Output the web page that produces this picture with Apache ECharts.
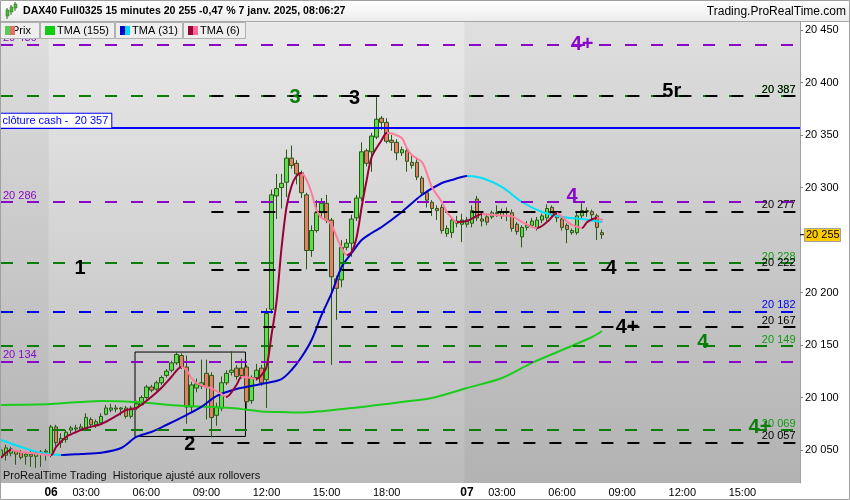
<!DOCTYPE html>
<html><head><meta charset="utf-8">
<script src="https://cdn.jsdelivr.net/npm/echarts@6/dist/echarts.min.js"></script>
<style>html,body{margin:0;padding:0;background:#fff}#c{width:850px;height:500px}</style>
</head><body><div id="c"></div>
<script>
// ---------------- DATA ----------------
const headerText = 'DAX40 Full0325 15 minutes 20 255 -0,47 % 7 janv. 2025, 08:06:27';
const siteText = 'Trading.ProRealTime.com';
const footText = 'ProRealTime Trading  Historique ajusté aux rollovers';
const legendNames = ['Prix', 'TMA (155)', 'TMA (31)', 'TMA (6)'];

const slotCount = 160; // 15-minute slots across the x axis
const xTickSlots = [10, 17, 29, 41, 53, 65, 77, 93, 100, 112, 124, 136, 148];
const xTickTexts = ['06', '03:00', '06:00', '09:00', '12:00', '15:00', '18:00', '07', '03:00', '06:00', '09:00', '12:00', '15:00'];
const dayTickTexts = ['06', '07'];

const yTickValues = [20050, 20100, 20150, 20200, 20300, 20350, 20400, 20450];
const lastPrice = 20255;

// OHLC, one per 15-minute slot starting at slot 0
const opens = [20043,20045,20047,20049,20048,20044,20046,20044,20046,20048,
 20045,20072,20057,20060,20069,20071,20070,20070,20079,20074,
 20076,20084,20088,20090,20089,20090,20082,20090,20093,20100,
 20110,20108,20114,20121,20126,20133,20140,20129,20091,20109,
 20111,20123,20121,20083,20090,20114,20124,20128,20128,20129,
 20097,20119,20128,20117,20184,20292,20300,20305,20328,20323,
 20314,20293,20240,20259,20276,20285,20269,20213,20212,20243,
 20247,20271,20290,20335,20334,20348,20366,20362,20345,20343,
 20333,20335,20324,20324,20309,20295,20286,20280,20281,20256,
 20257,20268,20265,20265,20266,20289,20270,20272,20272,20275,
 20273,20277,20276,20265,20253,20262,20264,20262,20269,20271,
 20281,20273,20270,20264,20257,20257,20273,20278,20277,20273,20257];
const highs = [20053,20055,20053,20050,20050,20048,20049,20049,20050,20051,
 20074,20074,20066,20069,20073,20074,20075,20085,20081,20079,
 20085,20093,20094,20093,20091,20092,20092,20097,20102,20112,
 20112,20116,20121,20127,20135,20143,20142,20140,20115,20118,
 20136,20136,20124,20095,20120,20126,20144,20131,20137,20131,
 20121,20132,20131,20185,20298,20313,20313,20336,20340,20326,
 20316,20295,20264,20288,20290,20293,20271,20216,20250,20251,
 20274,20293,20343,20337,20352,20386,20368,20366,20350,20346,
 20339,20337,20330,20327,20311,20297,20288,20283,20284,20264,
 20272,20273,20275,20272,20283,20292,20274,20275,20278,20283,
 20280,20281,20279,20267,20264,20268,20271,20272,20275,20284,
 20283,20275,20272,20266,20261,20276,20285,20281,20279,20275,20260];
const lows = [20038,20040,20044,20036,20041,20036,20034,20033,20034,20040,
 20043,20054,20052,20057,20066,20067,20068,20068,20071,20071,
 20074,20083,20086,20086,20083,20080,20080,20088,20092,20098,
 20105,20106,20112,20119,20124,20131,20127,20075,20086,20105,
 20108,20079,20062,20073,20087,20112,20121,20117,20118,20088,
 20094,20116,20111,20090,20180,20270,20280,20291,20318,20303,
 20290,20222,20234,20257,20270,20266,20131,20174,20205,20240,
 20234,20268,20287,20320,20315,20346,20355,20342,20335,20326,
 20330,20315,20318,20307,20293,20281,20273,20269,20256,20253,
 20252,20262,20248,20262,20262,20268,20263,20264,20270,20272,
 20270,20268,20258,20255,20243,20259,20262,20259,20266,20268,
 20271,20267,20259,20247,20255,20255,20270,20272,20270,20250,20251];
const closes = [20050,20052,20051,20046,20043,20046,20044,20047,20048,20049,
 20072,20057,20061,20067,20071,20070,20072,20081,20074,20077,
 20082,20090,20090,20089,20090,20082,20090,20094,20100,20110,
 20107,20114,20119,20125,20133,20141,20129,20091,20112,20113,
 20114,20110,20081,20091,20114,20123,20126,20120,20121,20096,
 20119,20126,20114,20180,20293,20299,20304,20328,20321,20313,
 20295,20240,20259,20276,20285,20269,20215,20204,20243,20247,
 20270,20290,20334,20323,20349,20365,20362,20344,20343,20333,
 20336,20325,20321,20310,20295,20288,20280,20278,20259,20261,
 20269,20266,20269,20269,20278,20271,20268,20267,20276,20276,
 20277,20276,20261,20258,20262,20264,20268,20269,20273,20280,
 20274,20271,20262,20260,20259,20273,20278,20277,20274,20262,20255];

// moving averages (slot, value)
const tma155Slots = [0,10,20,27,36,46,52,56,60,70,80,86,93,100,106,112,118,120];
const tma155Vals  = [20092.9,20093.8,20096.7,20095.7,20092.2,20090,20086.7,20086.2,20085.7,20090,20095.7,20099.5,20109,20118.6,20132.9,20145.2,20157.6,20163.3];

const tma31Slots = [0,4,8,12,16,20,24,27,30,33,37,40,43,47,50,53,56,58,60,62,64,66,68,70,72,74,76,80,84,88,90,93,96,100,104,108,112,116,120];
const tma31Vals  = [20059.5,20052.9,20047.1,20045.2,20046.2,20047.4,20051.9,20062.4,20067.1,20073.8,20083.3,20091,20101.4,20108.1,20111,20113.8,20117.6,20126.2,20138.6,20154.8,20178.6,20199.5,20224.3,20237.6,20250,20256.7,20262.4,20276.7,20292.9,20304.3,20307.1,20311,20309,20300.5,20286.2,20276.7,20272,20270,20267.1];

const tma6Slots = [0,2,4,6,8,10,11,13,15,17,20,23,25,27,30,32,34,36,37,38,39,41,42,44,45,47,48,50,51,52,53,54,55,56,57,58,59,60,61,62,63,64,65,66,67,68,69,70,71,72,73,74,76,77,78,80,81,82,84,85,86,88,89,90,91,93,95,96,99,102,104,106,107,109,111,112,114,116,117,119,120];
const tma6Vals  = [20042.4,20050,20048.1,20047.1,20046,20045.2,20052.9,20062.4,20067.1,20070.9,20074.8,20082.4,20088.1,20090,20100.5,20109,20119.5,20129,20126.2,20118.6,20113.8,20110,20109,20103.3,20100.5,20111.9,20119.5,20118.6,20117.6,20121.4,20129,20159.5,20191,20242.4,20281.4,20301.4,20311,20313.8,20307.1,20294.8,20278.6,20271,20269,20264.3,20252.9,20242.4,20235.7,20238.6,20252.9,20281.4,20307.1,20329,20345.2,20351.9,20351.5,20347.1,20337.6,20331,20324.3,20313.8,20300.5,20286.2,20276.7,20271,20267.1,20268.1,20272.9,20274.8,20273.5,20272.5,20267.1,20262.4,20261.4,20267.1,20275.7,20271.9,20264.3,20261.4,20267.1,20271,20269];

// horizontal levels
const purpleLevels = [20436, 20286, 20134];
const greenLevels  = [20387, 20228, 20149, 20069];
const blueLevels   = [20182];
const blackLevels  = [20387, 20277, 20222, 20167, 20057];
const blackLevelStartSlot = 42;
const cashClose = 20357;
const cashLabel = 'clôture cash - ';

// wave-count annotations
const annoTexts = ['4+', '3', '3', '5r', '4', '1', '4', '4+', '4', '4+', '2'];
const annoSlots = [116, 58.7, 70.6, 133.9, 114, 15.8, 121.8, 125, 140.1, 151.5, 37.7];
const annoVals  = [20436, 20386, 20385, 20391, 20291, 20223, 20223, 20167, 20152, 20071, 20055];
const annoKinds = ['p', 'g', 'k', 'k', 'p', 'k', 'k', 'k', 'g', 'g', 'k'];

// rectangle zone (slot range, value range)
const boxSlots = [26.75, 48.8];
const boxVals = [20143.3, 20062.9];

// sessions
const prevDayEnd = 9.5, day2Start = 92.5;

// ---------------- STYLE ----------------
const FONT = '"Liberation Sans", Arial, sans-serif';
const C = { p: '#8a08c8', g: '#0b7d0b', gt: '#119a11', b: '#0000ee', k: '#000000' };
const fmt = v => { const s = String(Math.round(v)); return s.slice(0, s.length - 3) + ' ' + s.slice(-3); };
const YMAX = 20457.62, YMIN = 20018.57;

const categories = Array.from({length: slotCount}, (_, i) => String(i));
const tickMap = {};
xTickSlots.forEach((s, i) => tickMap[s] = xTickTexts[i]);

const candleData = opens.map((o, i) => [o, closes[i], lows[i], highs[i]]);
const pairs = (xs, vs) => xs.map((x, i) => [x, vs[i]]);

function dirPieces(xs, vs, up, down) {
  const pieces = [];
  for (let i = 0; i < xs.length - 1; i++) {
    const p = { gte: xs[i], color: vs[i + 1] > vs[i] ? up : down };
    if (i === xs.length - 2) p.lte = xs[i + 1]; else p.lt = xs[i + 1];
    pieces.push(p);
  }
  return pieces;
}

const DASH = [12, 14];
const levelLines = [];
function addLevels(list, color, labelColor, start, side) {
  list.forEach(v => {
    levelLines.push([
      { xAxis: start, yAxis: v,
        lineStyle: { color: color, width: 2, type: DASH },
        label: { show: true, formatter: fmt(v), color: labelColor,
                 position: side === 'start' ? 'insideStartTop' : 'insideEndTop',
                 distance: [2, 1], fontSize: 11, fontFamily: FONT } },
      { xAxis: slotCount - 1, yAxis: v }
    ]);
  });
}
addLevels(purpleLevels, C.p, C.p, 0, 'start');
addLevels(greenLevels, C.g, C.gt, 0, 'end');
addLevels(blueLevels, C.b, C.b, 0, 'end');
addLevels(blackLevels, C.k, C.k, blackLevelStartSlot, 'end');
levelLines.push({
  yAxis: cashClose,
  lineStyle: { color: '#0000ff', width: 2, type: 'solid' },
  label: { show: true, formatter: cashLabel + ' ' + fmt(cashClose), position: 'insideStartTop',
           distance: [1, 0], color: '#0000ff', fontSize: 11, fontFamily: FONT,
           backgroundColor: '#ffffff', borderColor: '#0000ff', borderWidth: 1, padding: [2, 3, 1, 3] }
});

const chart = echarts.init(document.getElementById('c'), null, { renderer: 'canvas' });

const legendX = [0, 40, 115, 183], legendW = [40, 75, 68, 63];
const swatches = [['#55cc55', '#e0705f'], ['#11cc11', '#11cc11'], ['#0000cc', '#00ddff'], ['#990033', '#ff6699']];
const graphics = [];
// header
graphics.push({ type: 'rect', shape: { x: 0, y: 0, width: 850, height: 21 }, z: 100,
  style: { fill: new echarts.graphic.LinearGradient(0, 0, 0, 1, [{offset: 0, color: '#ffffff'}, {offset: 1, color: '#ececec'}]) } });
graphics.push({ type: 'line', shape: { x1: 0, y1: 21.5, x2: 850, y2: 21.5 }, z: 100, style: { stroke: '#a8a8a8', lineWidth: 1 } });
// header icon
[[6, 10, 6, 14, '#44bb33'], [10, 7, 5, 16, '#44bb33'], [14, 4, 4, 13, '#44bb33']].forEach(a => {
  graphics.push({ type: 'line', shape: { x1: a[0] + 1, y1: a[1] - 2, x2: a[0] + 1, y2: a[1] + a[2] + 3 }, z: 101, style: { stroke: '#336622', lineWidth: 1 } });
  graphics.push({ type: 'rect', shape: { x: a[0], y: a[1], width: 3, height: a[2] }, z: 102, style: { fill: a[4], stroke: '#336622', lineWidth: 0.5 } });
});
graphics.push({ type: 'text', x: 23, y: 11.5, z: 101, style: { text: headerText, font: 'bold 10.6px ' + FONT, fill: '#000', verticalAlign: 'middle' } });
graphics.push({ type: 'text', x: 846, y: 12, z: 101, style: { text: siteText, font: '12px ' + FONT, fill: '#000', align: 'right', verticalAlign: 'middle' } });
// legend
legendNames.forEach((n, i) => {
  const x = legendX[i];
  graphics.push({ type: 'rect', shape: { x: x + 0.5, y: 22.5, width: legendW[i] - 1, height: 16 }, z: 100, style: { fill: '#eeeeee', stroke: '#b0b0b0', lineWidth: 1 } });
  graphics.push({ type: 'text', x: i === 0 ? x + 12 : x + 17, y: 31, z: 101, style: { text: n, font: '11px ' + FONT, fill: '#000', verticalAlign: 'middle' } });
  graphics.push({ type: 'rect', shape: { x: x + 5, y: 26, width: 5, height: 9 }, z: 102, style: { fill: swatches[i][0] } });
  graphics.push({ type: 'rect', shape: { x: x + 10, y: 26, width: 5, height: 9 }, z: 102, style: { fill: swatches[i][1] } });
});
// footer text inside plot
graphics.push({ type: 'text', x: 3, y: 476, z: 101, style: { text: footText, font: '11px ' + FONT, fill: '#111', verticalAlign: 'middle' } });
// outer border
graphics.push({ type: 'rect', shape: { x: 0.5, y: 0.5, width: 849, height: 499 }, z: 103, style: { fill: 'none', stroke: '#a0a0a0', lineWidth: 1 } });

const option = {
  animation: false,
  backgroundColor: '#ffffff',
  grid: { left: -1.5, right: 50, top: 22, bottom: 17, outerBoundsMode: 'none', containLabel: false,
    show: true, borderWidth: 0,
    backgroundColor: new echarts.graphic.LinearGradient(0, 0, 0, 1, [{offset: 0, color: '#e9e9e9'}, {offset: 1, color: '#bbbbbb'}]) },
  xAxis: [
    { type: 'category', data: categories, boundaryGap: true, position: 'bottom',
      axisLine: { show: false, onZero: false }, axisTick: { show: false }, splitLine: { show: false },
      axisLabel: { interval: (idx) => tickMap[idx] !== undefined, hideOverlap: false,
        formatter: (v, idx) => { const t = tickMap[idx]; if (t === undefined) return ''; return dayTickTexts.includes(t) ? '{d|' + t + '}' : t; },
        color: '#000', fontSize: 11, fontFamily: FONT, margin: 4,
        rich: { d: { fontWeight: 'bold', fontSize: 12, fontFamily: FONT, color: '#000' } } } },
    { type: 'value', min: -0.5, max: slotCount - 0.5, show: false, gridIndex: 0, position: 'top',
      axisLine: { show: false, onZero: false }, axisTick: { show: false }, splitLine: { show: false }, axisLabel: { show: false } }
  ],
  yAxis: [
    { type: 'value', position: 'right', min: YMIN, max: YMAX, scale: true, splitNumber: 9,
      axisLine: { show: true, onZero: false, lineStyle: { color: '#a0a0a0', width: 1 } },
      axisTick: { show: true, inside: false, length: 3, lineStyle: { color: '#888' }, customValues: yTickValues },
      splitLine: { show: false }, minorTick: { show: false }, minorSplitLine: { show: false }, splitArea: { show: false },
      axisLabel: { customValues: yTickValues, formatter: v => fmt(v), color: '#000', fontSize: 11, fontFamily: FONT, margin: 5 } }
  ],
  visualMap: [
    { type: 'piecewise', show: false, seriesIndex: 4, dimension: 0, pieces: dirPieces(tma31Slots, tma31Vals, '#0000cc', '#00e0f8'), outOfRange: { color: '#0000cc' } },
    { type: 'piecewise', show: false, seriesIndex: 5, dimension: 0, pieces: dirPieces(tma6Slots, tma6Vals, '#99003a', '#ff7a9c'), outOfRange: { color: '#99003a' } }
  ],
  graphic: graphics,
  series: [
    { type: 'line', xAxisIndex: 1, yAxisIndex: 0, data: [], z: 1, silent: true,
      markArea: { silent: true, itemStyle: { color: 'rgba(0,0,0,0.045)' },
        data: [[{ xAxis: -0.5 }, { xAxis: prevDayEnd }], [{ xAxis: day2Start }, { xAxis: slotCount - 0.5 }]] } },
    { type: 'candlestick', xAxisIndex: 0, yAxisIndex: 0, data: candleData, z: 2, barWidth: 4,
      itemStyle: { color: '#5fdc52', color0: '#ec7a6a', borderColor: '#285a14', borderColor0: '#285a14', borderWidth: 1 } },
    { type: 'line', xAxisIndex: 1, yAxisIndex: 0, data: [], z: 3, silent: true,
      markLine: { silent: true, symbol: ['none', 'none'], animation: false, data: levelLines } },
    { type: 'line', xAxisIndex: 1, yAxisIndex: 0, data: pairs(tma155Slots, tma155Vals), z: 4, smooth: 0.3,
      showSymbol: false, lineStyle: { color: '#1ccc1c', width: 2 }, itemStyle: { color: '#1ccc1c' } },
    { type: 'line', xAxisIndex: 1, yAxisIndex: 0, data: pairs(tma31Slots, tma31Vals), z: 4, smooth: 0.3,
      showSymbol: false, lineStyle: { width: 2 } },
    { type: 'line', xAxisIndex: 1, yAxisIndex: 0, data: pairs(tma6Slots, tma6Vals), z: 5, smooth: 0.3,
      showSymbol: false, lineStyle: { width: 2 } },
    { type: 'scatter', xAxisIndex: 1, yAxisIndex: 0, z: 6, symbolSize: 1, itemStyle: { color: 'rgba(0,0,0,0)', opacity: 1 },
      data: annoSlots.map((s, i) => ({ value: [s, annoVals[i]], name: annoTexts[i],
        label: { color: annoKinds[i] === 'p' ? C.p : annoKinds[i] === 'g' ? C.g : C.k } })),
      label: { show: true, position: 'inside', opacity: 1, formatter: p => p.name, fontSize: 20, fontWeight: 'bold', fontFamily: FONT,
               textBorderWidth: 0 },
      markArea: { silent: true, itemStyle: { color: 'rgba(0,0,0,0)', borderColor: '#000', borderWidth: 1 },
        data: [[{ xAxis: boxSlots[0], yAxis: boxVals[0] }, { xAxis: boxSlots[1], yAxis: boxVals[1] }]] } }
  ]
};
chart.setOption(option);

// current price marker on the right axis, positioned through the y scale
const py = chart.convertToPixel({ yAxisIndex: 0 }, lastPrice);
const axisX = chart.convertToPixel({ xAxisIndex: 1 }, slotCount - 0.5);
graphics.push({ type: 'line', shape: { x1: axisX, y1: py, x2: axisX + 5, y2: py }, z: 104, style: { stroke: '#000', lineWidth: 1 } });
graphics.push({ type: 'rect', shape: { x: axisX + 4.5, y: Math.round(py) - 6.5, width: 36, height: 13 }, z: 104, style: { fill: '#ffcc00', stroke: '#a0a0a0', lineWidth: 1 } });
graphics.push({ type: 'text', x: axisX + 6, y: py + 0.5, z: 105, style: { text: fmt(lastPrice), font: '11px ' + FONT, fill: '#000', verticalAlign: 'middle' } });
chart.setOption({ graphic: graphics });
</script>
</body></html>
